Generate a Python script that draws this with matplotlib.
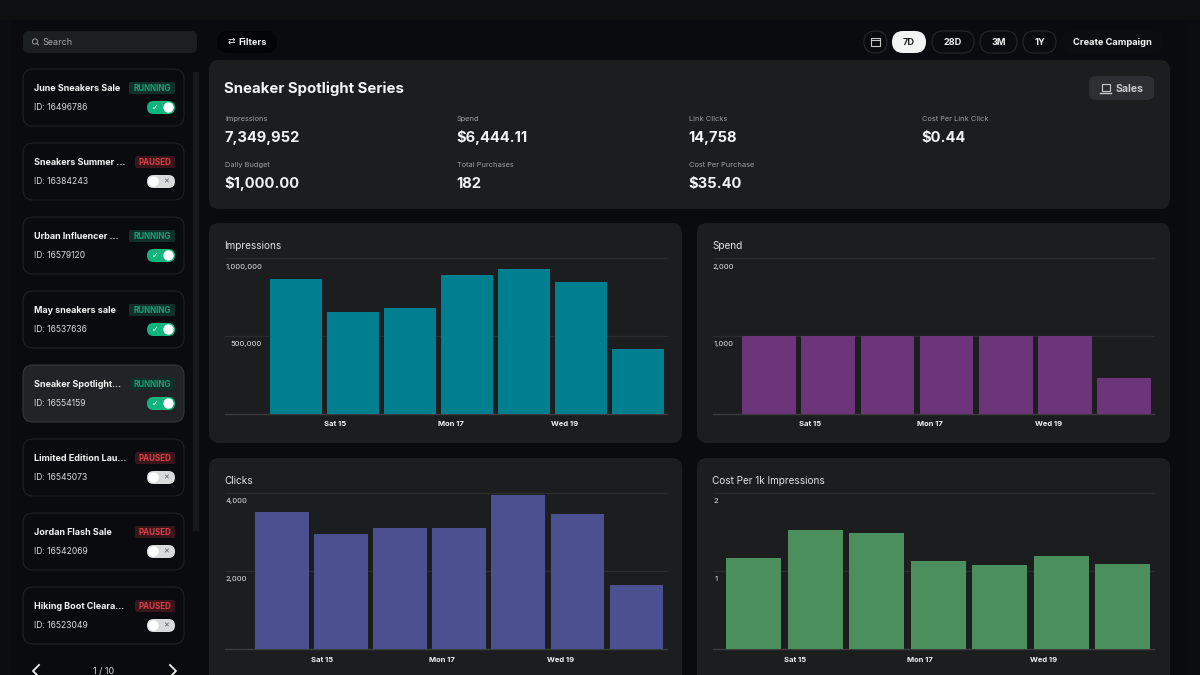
import matplotlib
matplotlib.use('Agg')
import matplotlib.pyplot as plt
from matplotlib.patches import FancyBboxPatch, Rectangle, Circle
from matplotlib.transforms import ScaledTranslation

plt.rcParams['font.family'] = ['Inter', 'DejaVu Sans']

# sidebar
campaign_names = ['June Sneakers Sale', 'Sneakers Summer ...', 'Urban Influencer ...', 'May sneakers sale',
                  'Sneaker Spotlight...', 'Limited Edition Lau...', 'Jordan Flash Sale', 'Hiking Boot Cleara...']
campaign_ids = ['16496786', '16384243', '16579120', '16537636', '16554159', '16545073', '16542069', '16523049']
campaign_status = ['RUNNING', 'PAUSED', 'RUNNING', 'RUNNING', 'RUNNING', 'PAUSED', 'PAUSED', 'PAUSED']
selected_campaign = 4

# header
range_buttons = ['7D', '28D', '3M', '1Y']
campaign_title = 'Sneaker Spotlight Series'
metric_labels = ['Impressions', 'Spend', 'Link Clicks', 'Cost Per Link Click',
                 'Daily Budget', 'Total Purchases', 'Cost Per Purchase']
metric_values = ['7,349,952', '$6,444.11', '14,758', '$0.44', '$1,000.00', '182', '$35.40']

# charts
tick_days = ['Sat 15', 'Mon 17', 'Wed 19']
impressions = [863000, 655000, 678000, 891000, 927000, 846000, 413000]
spend = [1000, 1000, 1000, 1000, 1000, 1000, 453]
clicks = [3498, 2935, 3097, 3097, 3933, 3447, 1646]
cost_per_1k = [1.169, 1.527, 1.484, 1.13, 1.079, 1.19, 1.092]

impressions_ticks = [0, 500000, 1000000]
spend_ticks = [0, 1000, 2000]
clicks_ticks = [0, 2000, 4000]
cost_ticks = [0, 1, 2]

BG = '#090b0e'
PANEL = '#1c1d1f'
WHITE = '#f2f3f3'
GRID = '#2b2c2e'

fig = plt.figure(figsize=(12, 6.75), dpi=100, facecolor=BG)

# full figure axes in pixel coordinates for the dashboard chrome
bg = fig.add_axes([0, 0, 1, 1])
bg.set_xlim(0, 1200)
bg.set_ylim(675, 0)
bg.axis('off')


def px(size):
    return size * 0.72


def box(x0, y0, x1, y1, r, fc, ec='none', lw=0.8, z=1):
    bg.add_patch(FancyBboxPatch((x0, y0), x1 - x0, y1 - y0, boxstyle='round,pad=0,rounding_size=%g' % r,
                                fc=fc, ec=ec, lw=lw, zorder=z))


def label(x, y, s, size, color=WHITE, weight='normal', ha='left', z=5):
    # y is the middle of the cap height, so digits and $ sit on one baseline
    bg.text(x, y + 0.36 * size, s, fontsize=px(size), color=color, fontweight=weight, ha=ha, va='baseline', zorder=z)


bg.add_patch(Rectangle((0, 0), 1200, 20, fc='#0e0f10', ec='none'))
bg.add_patch(Rectangle((0, 20), 11, 655, fc='#0c0d10', ec='none'))
bg.add_patch(Rectangle((1186, 20), 14, 655, fc='#0b0c0f', ec='none'))

# search box
box(23, 31, 197, 53, 6, '#1c1f22')
bg.add_patch(Circle((35, 41.5), 2.6, fc='none', ec='#9a9da0', lw=0.7, zorder=5))
bg.plot([37, 38.5], [43.5, 45], color='#9a9da0', lw=0.7, zorder=5)
label(42, 42, 'Search', 9, '#a5a8aa')

# campaign cards
bg.add_patch(Rectangle((193, 72), 6, 459, fc='#17191c', ec='none'))
for i, name in enumerate(campaign_names):
    top = 69 + 74 * i
    running = campaign_status[i] == 'RUNNING'
    if i == selected_campaign:
        box(23, top, 184, top + 57, 10, '#212326', '#33363a')
    else:
        box(23, top, 184, top + 57, 10, '#0a0b0e', '#1e2226')
    label(34.5, top + 19, name, 9, WHITE, 'bold')
    label(34.5, top + 38, 'ID: ' + campaign_ids[i], 8.6, '#d8d9da')
    if running:
        box(129, top + 13, 175, top + 25, 2, '#12302a')
        label(152, top + 19, 'RUNNING', 8, '#12a574', 'bold', ha='center')
        box(147, top + 32, 175, top + 45, 6.5, '#0fb57c')
        bg.add_patch(Circle((168.5, top + 38.5), 5.2, fc='white', ec='none', zorder=5))
        bg.text(155, top + 38.5, '\u2713', fontsize=px(8), color='white', ha='center', va='center',
                family='DejaVu Sans', zorder=5)
    else:
        box(135, top + 13, 175, top + 25, 2, '#3a1519')
        label(155, top + 19, 'PAUSED', 8, '#d8404a', 'bold', ha='center')
        box(147, top + 32, 175, top + 45, 6.5, '#d9dadb')
        bg.add_patch(Circle((153.5, top + 38.5), 5.2, fc='white', ec='none', zorder=5))
        bg.text(166, top + 38.5, '\u2715', fontsize=px(7), color='#55585a', ha='center', va='center',
                family='DejaVu Sans', zorder=5)

# pager
bg.plot([39, 33, 39], [665, 671, 677], color=WHITE, lw=1.3, zorder=5)
bg.plot([170, 176, 170], [665, 671, 677], color=WHITE, lw=1.3, zorder=5)
label(104, 671, '1 / 10', 9, '#d8d9da', ha='center')

# top controls
box(217, 31, 277, 53, 11, '#040506')
bg.text(231, 41.5, '\u21c4', fontsize=px(9), color=WHITE, ha='center', va='center',
        family='DejaVu Sans', zorder=5)
label(238, 42, 'Filters', 9.2, WHITE, 'bold')
box(864, 31, 887, 53, 11, BG, '#24282c')
bg.add_patch(Rectangle((871, 38), 8.5, 7.5, fc='none', ec='#c4c6c8', lw=0.8, zorder=5))
bg.plot([871, 879.5], [40.3, 40.3], color='#c4c6c8', lw=0.8, zorder=5)
button_edges = [(892, 926), (932, 974), (980, 1017), (1023, 1056)]
for i, text in enumerate(range_buttons):
    x0, x1 = button_edges[i]
    if i == 0:
        box(x0, 31, x1, 53, 11, '#f2f3f3')
        label((x0 + x1) / 2, 42, text, 9.2, '#222426', 'bold', ha='center')
    else:
        box(x0, 31, x1, 53, 11, BG, '#24282c')
        label((x0 + x1) / 2, 42, text, 9.2, WHITE, 'bold', ha='center')
box(1062, 31, 1163, 53, 11, '#0b0d10')
label(1073, 42, 'Create Campaign', 9.3, WHITE, 'bold')

# summary panel
box(209, 60, 1170, 209, 10, PANEL)
label(224.5, 88, campaign_title, 15, WHITE, 'bold')
box(1089, 76, 1154, 100, 7, '#2d2f32')
bg.add_patch(Rectangle((1101.5, 84), 8, 7, fc='none', ec='#c8cacb', lw=0.8, zorder=5))
bg.plot([1100, 1111], [92.5, 92.5], color='#c8cacb', lw=1, zorder=5)
label(1116, 88, 'Sales', 10.5, '#c8cacb', 'bold')
metric_x = [225, 457, 689, 922, 225, 457, 689]
metric_y = [118, 118, 118, 118, 164, 164, 164]
for i, text in enumerate(metric_labels):
    label(metric_x[i], metric_y[i], text, 7.4, '#9ea2a4')
    label(metric_x[i] - 0.5, metric_y[i] + 19, metric_values[i], 14.7, WHITE, 'bold')

# chart panels
box(209, 223, 682, 443, 10, PANEL)
box(697, 223, 1170, 443, 10, PANEL)
box(209, 458, 682, 690, 10, PANEL)
box(697, 458, 1170, 690, 10, PANEL)
label(224.5, 245, 'Impressions', 10, '#e2e3e4')
label(712.5, 245, 'Spend', 10, '#e2e3e4')
label(224.5, 480, 'Clicks', 10, '#e2e3e4')
label(712.5, 480, 'Cost Per 1k Impressions', 10, '#e2e3e4')


def bar_chart(left, right, top, bottom, values, yticks, color, xlim, width, tick_pos, label_w):
    ax = fig.add_axes([left / 1200, 1 - bottom / 675, (right - left) / 1200, (bottom - top) / 675])
    ax.patch.set_alpha(0)
    ax.bar(range(len(values)), values, width=width, color=color, zorder=3)
    ax.set_xlim(xlim)
    ax.set_ylim(yticks[0], yticks[-1])
    for side in ['top', 'left', 'right']:
        ax.spines[side].set_visible(False)
    ax.spines['bottom'].set_color('#3a3c3e')
    ax.spines['bottom'].set_linewidth(1)
    ax.set_xticks(tick_pos)
    ax.set_xticklabels(tick_days, fontsize=px(7.6), fontweight='bold', color=WHITE)
    ax.tick_params(axis='x', length=0, pad=px(7.5))
    ax.set_yticks(yticks[1:])
    ax.set_yticklabels(['{:,}'.format(v) for v in yticks[1:]], fontsize=px(7.6), color='#e4e5e6')
    ax.tick_params(axis='y', length=0, pad=-px(label_w))
    shift = ScaledTranslation(0, -px(5.5) / 72, fig.dpi_scale_trans)
    for tick_label in ax.get_yticklabels():
        tick_label.set_verticalalignment('top')
        tick_label.set_transform(tick_label.get_transform() + shift)
    ax.grid(axis='y', color=GRID, lw=1)
    ax.set_axisbelow(True)
    for line in ax.get_ygridlines():
        line.set_clip_on(False)
    return ax


bar_chart(225, 666.7, 258, 413.5, impressions, impressions_ticks, '#007f91', (-1.25, 6.51), 0.91,
          [0.68, 2.72, 4.72], 37)
bar_chart(712.7, 1154, 258, 413.5, spend, spend_ticks, '#6c3579', (-0.956, 6.51), 0.91,
          [0.685, 2.71, 4.72], 21)
bar_chart(225, 666.7, 492.7, 649, clicks, clicks_ticks, '#4b5190', (-0.964, 6.51), 0.91,
          [0.68, 2.71, 4.71], 22)
bar_chart(712.7, 1154, 492.7, 649, cost_per_1k, cost_ticks, '#4a8f5c', (-0.663, 6.507), 0.894,
          [0.68, 2.705, 4.71], 5)

plt.savefig('out.png', dpi=100, facecolor=BG)
